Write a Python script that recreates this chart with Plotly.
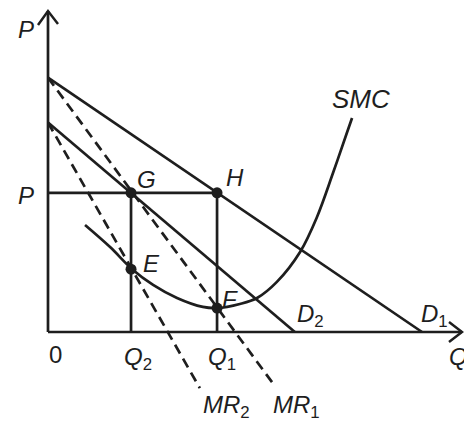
import plotly.graph_objects as go

# ---- data (economic units) ----
D1_q = [0, 10.0]
D1_p = [6.8, 0]
D2_q = [0, 6.6]
D2_p = [5.6, 0]
MR1_q = [0, 6.07]
MR1_p = [6.8, -1.45]
MR2_q = [0, 4.06]
MR2_p = [5.6, -1.5]
SMC_q = [0.99, 1.66, 2.25, 2.81, 3.45, 4.14, 4.52, 5.13, 5.59, 6.12, 6.74, 7.19, 7.62, 7.99, 8.13]
SMC_p = [2.86, 2.27, 1.68, 1.26, 0.91, 0.67, 0.64, 0.75, 0.91, 1.34, 2.14, 3.07, 4.25, 5.32, 5.72]
P_level = 3.72
Q1 = 4.52
Q2 = 2.22
F_p = 0.64
E_p = 1.68
pts_names = ["G", "H", "E", "F"]
pts_q = [Q2, Q1, Q2, Q1]
pts_p = [P_level, P_level, E_p, F_p]

# ---- pixel mapping helpers (layout only) ----
W, H = 464, 421
K = 37.4
X0, Y0 = 48, 332
def px(x):
    return (x - X0) / K
def py(y):
    return (Y0 - y) / K

INK = "#1e1e1e"
LW = 2.7
fig = go.Figure()

def line(xs, ys, dash="solid", width=LW, shape="linear"):
    fig.add_trace(go.Scatter(x=xs, y=ys, mode="lines",
                             line=dict(color=INK, width=width, dash=dash, shape=shape),
                             hoverinfo="skip", showlegend=False))

# axes
line([0, 0], [0, py(11)])
line([0, px(462)], [0, 0])
# arrowheads (open V)
line([px(38), 0, px(58)], [py(25), py(11), py(24)], width=2.5)
line([px(449), px(462), px(449)], [py(322), 0, py(342)], width=2.5)

# demand curves
line(D1_q, D1_p)
line(D2_q, D2_p)
# marginal revenue (dashed)
line(MR1_q, MR1_p, dash="10px,6px")
line(MR2_q, MR2_p, dash="10px,6px")
# SMC
line(SMC_q, SMC_p, shape="spline")
# guide lines
line([0, Q1], [P_level, P_level])
line([Q2, Q2], [0, P_level])
line([Q1, Q1], [0, P_level])
# points
fig.add_trace(go.Scatter(x=pts_q, y=pts_p, mode="markers",
                         marker=dict(color=INK, size=11),
                         hoverinfo="skip", showlegend=False))

FONT = "Liberation Sans, Arial, sans-serif"
def label(text, x, y, size=24):
    fig.add_annotation(x=px(x), y=py(y), text=text, showarrow=False,
                       font=dict(family=FONT, size=size, color=INK),
                       xanchor="center", yanchor="middle")

label("<i>P</i>", 26, 29)
label("<i>P</i>", 26, 195)
label("<i>G</i>", 146, 179)
label("<i>H</i>", 235, 177)
label("<i>E</i>", 151, 263)
label("<i>F</i>", 230, 299)
label("<i>SMC</i>", 361, 99, size=26)
label("<i>D</i><sub>2</sub>", 310, 315)
label("<i>D</i><sub>1</sub>", 434, 315)
label("0", 55, 354)
label("<i>Q</i><sub>2</sub>", 138, 358)
label("<i>Q</i><sub>1</sub>", 222, 358)
label("<i>Q</i>", 458, 356)
label("<i>MR</i><sub>2</sub>", 226, 406)
label("<i>MR</i><sub>1</sub>", 296, 406)

fig.update_layout(
    width=W, height=H,
    margin=dict(l=0, r=0, t=0, b=0),
    paper_bgcolor="white", plot_bgcolor="white",
    xaxis=dict(range=[px(0), px(W)], visible=False, fixedrange=True),
    yaxis=dict(range=[py(H), py(0)], visible=False, fixedrange=True),
)
fig.write_html("out.html", config={"displayModeBar": False},
               post_script="document.body.style.margin='0px';document.body.style.overflow='hidden';")
